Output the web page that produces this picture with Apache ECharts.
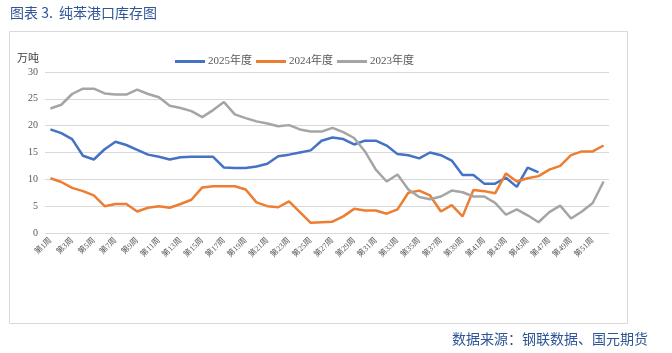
<!DOCTYPE html>
<html>
<head>
<meta charset="utf-8">
<script src="https://cdn.jsdelivr.net/npm/echarts@6/dist/echarts.min.js"></script>
<style>
  html, body { margin: 0; padding: 0; background: #fff; }
  #chart { width: 672px; height: 353px; }
</style>
</head>
<body>
<div id="chart"></div>
<script>
// weeks 1..52
const weeks = Array.from({ length: 52 }, (_, i) => '第' + (i + 1) + '周');

const yTicks = [0, 5, 10, 15, 20, 25, 30];

const data2025 = [
  19.3, 18.6, 17.5, 14.4, 13.7, 15.6, 17.0, 16.4, 15.5, 14.6,
  14.2, 13.7, 14.1, 14.2, 14.2, 14.2, 12.2, 12.1, 12.1, 12.4,
  12.9, 14.3, 14.6, 15.0, 15.4, 17.2, 17.8, 17.5, 16.5, 17.2,
  17.2, 16.3, 14.7, 14.5, 13.9, 15.0, 14.5, 13.5, 10.8, 10.8,
  9.2, 9.2, 10.3, 8.6, 12.2, 11.3
];

const data2024 = [
  10.2, 9.5, 8.4, 7.8, 7.0, 5.0, 5.4, 5.4, 4.0, 4.7,
  5.0, 4.7, 5.4, 6.2, 8.5, 8.7, 8.7, 8.7, 8.1, 5.7,
  5.0, 4.8, 5.9, 3.9, 1.9, 2.0, 2.1, 3.1, 4.5, 4.2,
  4.2, 3.6, 4.4, 7.5, 7.9, 7.0, 4.0, 5.2, 3.1, 8.0,
  7.8, 7.4, 11.1, 9.6, 10.2, 10.6, 11.8, 12.5, 14.5, 15.2,
  15.2, 16.3
];

const data2023 = [
  23.2, 23.9, 25.9, 26.9, 26.9, 26.0, 25.8, 25.8, 26.7, 25.9,
  25.3, 23.7, 23.3, 22.7, 21.6, 22.9, 24.4, 22.1, 21.4, 20.8,
  20.4, 19.9, 20.1, 19.3, 18.9, 18.9, 19.6, 18.8, 17.7, 15.2,
  11.8, 9.6, 10.9, 8.1, 6.7, 6.3, 6.8, 7.9, 7.6, 6.8,
  6.8, 5.6, 3.4, 4.4, 3.3, 2.0, 3.9, 5.1, 2.7, 4.0,
  5.6, 9.6
];

const serif = '"Liberation Serif", "DejaVu Serif", "Noto Sans CJK SC", serif';
const cjk = '"Noto Sans CJK SC", sans-serif';

const chart = echarts.init(document.getElementById('chart'));

const option = {
  animation: false,
  color: ['#4472C4', '#ED7D31', '#A5A5A5'],
  title: {
    text: '图表 3.  纯苯港口库存图',
    left: 5,
    top: 1,
    textStyle: { fontFamily: cjk, fontSize: 14, fontWeight: 'normal', color: '#2F5597' }
  },
  graphic: [
    {
      type: 'rect',
      left: 7,
      top: 29,
      shape: { width: 618, height: 292 },
      style: { fill: 'none', stroke: '#D9D9D9', lineWidth: 1 },
      silent: true
    },
    {
      type: 'text',
      right: 24,
      top: 332,
      style: { text: '数据来源：钢联数据、国元期货', fontFamily: cjk, fontSize: 14, fill: '#2F5597' }
    }
  ],
  legend: {
    top: 51,
    left: 170,
    itemWidth: 30,
    itemHeight: 3,
    itemGap: 4,
    icon: 'rect',
    textStyle: { fontFamily: serif, fontSize: 11, color: '#595959', padding: [0, 0, 0, -2] },
    data: ['2025年度', '2024年度', '2023年度']
  },
  grid: { left: 45, right: 63, top: 72, bottom: 120 },
  xAxis: {
    type: 'category',
    data: weeks,
    boundaryGap: true,
    axisLine: { show: false },
    axisTick: { show: false },
    axisLabel: {
      interval: 1,
      rotate: 45,
      fontFamily: serif,
      fontSize: 8,
      color: '#595959',
      margin: 6
    }
  },
  yAxis: {
    type: 'value',
    min: yTicks[0],
    max: yTicks[yTicks.length - 1],
    interval: 5,
    name: '万吨',
    nameLocation: 'end',
    nameGap: 9,
    nameTextStyle: { fontFamily: cjk, fontSize: 11, color: '#404040', align: 'right', padding: [0, 6, 0, 0] },
    axisLine: { show: false },
    axisTick: { show: false },
    axisLabel: { fontFamily: serif, fontSize: 10, color: '#595959', margin: 7 },
    splitLine: { lineStyle: { color: '#D9D9D9', width: 1 } }
  },
  series: [
    { name: '2025年度', type: 'line', data: data2025, showSymbol: false, lineStyle: { width: 2.5 } },
    { name: '2024年度', type: 'line', data: data2024, showSymbol: false, lineStyle: { width: 2.5 } },
    { name: '2023年度', type: 'line', data: data2023, showSymbol: false, lineStyle: { width: 2.5 } }
  ]
};

chart.setOption(option);
</script>
</body>
</html>
